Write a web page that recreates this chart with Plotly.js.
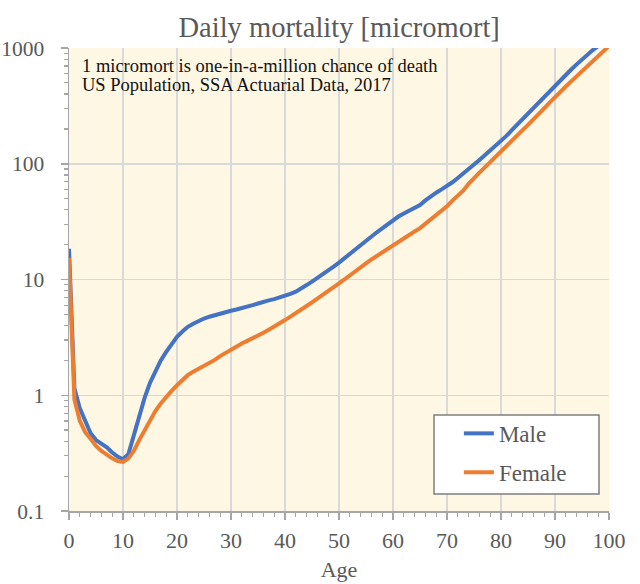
<!DOCTYPE html>
<html>
<head>
<meta charset="utf-8">
<script src="https://cdn.plot.ly/plotly-3.0.1.min.js"></script>
<style>
html,body{margin:0;padding:0;background:#fff;}
#chart{width:640px;height:584px;}
#chart .legendtext{font-family:"Liberation Serif","Times New Roman",serif !important;}
</style>
</head>
<body>
<div id="chart"></div>
<script>
// Age in years
const ages = [];
for (let a = 0; a <= 100; a++) ages.push(a);

// Daily mortality in micromorts
const male = [
  18.4, 1.15, 0.77, 0.60, 0.47, 0.41, 0.38, 0.355, 0.32, 0.295,
  0.28, 0.31, 0.45, 0.68, 0.95, 1.28, 1.62, 2.0, 2.37, 2.77,
  3.2, 3.55, 3.9, 4.15, 4.4, 4.6, 4.77, 4.93, 5.1, 5.23,
  5.37, 5.5, 5.63, 5.8, 6.0, 6.2, 6.43, 6.6, 6.77, 6.97,
  7.2, 7.5, 7.85, 8.3, 8.95, 9.6, 10.3, 11.0, 11.9, 12.9,
  14.0, 15.3, 16.7, 18.2, 20.0, 21.8, 23.7, 25.6, 27.6, 30.0,
  32.5, 35.0, 37.2, 39.3, 41.5, 44.0, 48.2, 52.6, 56.2, 60.0,
  64.2, 69.2, 75.4, 82.0, 89.5, 98.1, 107.8, 118.5, 130, 143,
  157, 174, 195, 218, 243, 272, 304, 340, 381, 427,
  478, 531, 588, 652, 722, 800, 887, 960, 1040, 1120,
  1200
];
const female = [
  15.3, 0.92, 0.60, 0.48, 0.42, 0.365, 0.33, 0.305, 0.285, 0.27,
  0.265, 0.285, 0.33, 0.41, 0.50, 0.61, 0.73, 0.85, 0.97, 1.09,
  1.22, 1.35, 1.49, 1.60, 1.70, 1.79, 1.88, 2.02, 2.18, 2.33,
  2.49, 2.65, 2.80, 2.95, 3.10, 3.28, 3.46, 3.68, 3.90, 4.17,
  4.46, 4.78, 5.10, 5.45, 5.90, 6.35, 6.87, 7.45, 8.10, 8.65,
  9.26, 10.0, 10.9, 11.9, 12.9, 13.8, 14.9, 16.0, 17.3, 18.6,
  19.9, 21.3, 22.8, 24.4, 26.0, 27.8, 30.2, 33.0, 36.0, 39.6,
  43.0, 48.0, 53.0, 58.5, 67.0, 75.6, 83.9, 93.0, 103, 114.5,
  127, 141.7, 157.6, 175, 195, 217, 240, 269, 301, 337,
  378, 420, 465, 515, 571, 634, 699, 770, 850, 940,
  1040
];

const yTickVals = [0.1, 1, 10, 100, 1000];
const yTickText = ["0.1", "1", "10", "100", "1000"];
const yMinorVals = [];
[0.1, 1, 10, 100].forEach(function (d) {
  for (let k = 2; k <= 9; k++) yMinorVals.push(d * k);
});

const noteLines = [
  "1 micromort is one-in-a-million chance of death",
  "US Population, SSA Actuarial Data, 2017"
];

const serif = "Liberation Serif, Times New Roman, serif";
const grey = "#595959";

const traces = [
  {x: ages, y: male, name: "Male", type: "scatter", mode: "lines",
   legendgroup: "m", line: {color: "#4472C4", width: 4}},
  {x: ages, y: female, name: "Female", type: "scatter", mode: "lines",
   legendgroup: "f", line: {color: "#ED7D31", width: 4}}
];

const layout = {
  width: 640, height: 584,
  margin: {l: 69, r: 31, t: 48, b: 73},
  paper_bgcolor: "#ffffff",
  plot_bgcolor: "#FEF7E4",
  font: {family: serif, color: grey},
  title: {text: "Daily mortality [micromort]", font: {family: serif, size: 28.5, color: grey},
          x: 0.53, xanchor: "center", y: 0.953, yanchor: "middle"},
  xaxis: {
    range: [0, 100], dtick: 10, tick0: 0,
    showgrid: true, gridcolor: "#D9D9D9", gridwidth: 1.5,
    zeroline: false, showline: true, linecolor: "#A6A6A6", linewidth: 1.5,
    ticks: "outside", ticklen: 7, tickcolor: "#A6A6A6", tickwidth: 1.5,
    ticklabelstandoff: 2,
    minor: {dtick: 2, ticks: "outside", ticklen: 4, tickcolor: "#A6A6A6", tickwidth: 1.2, showgrid: false},
    tickfont: {family: serif, size: 22, color: grey},
    title: {text: "Age", font: {family: serif, size: 22, color: grey}, standoff: 9}
  },
  yaxis: {
    type: "log", range: [-1, 3],
    tickvals: yTickVals, ticktext: yTickText,
    showgrid: true, gridcolor: "#D9D9D9", gridwidth: 1.5,
    zeroline: false, showline: true, linecolor: "#A6A6A6", linewidth: 1.5,
    ticks: "outside", ticklen: 7, tickcolor: "#A6A6A6", tickwidth: 1.5,
    ticklabelstandoff: 12,
    minor: {tickvals: yMinorVals, ticks: "outside", ticklen: 4, tickcolor: "#A6A6A6", tickwidth: 1.2, showgrid: false},
    tickfont: {family: serif, size: 21.5, color: grey}
  },
  showlegend: true,
  legend: {
    x: 0.722, y: 0.214, xanchor: "left", yanchor: "top",
    bgcolor: "rgba(0,0,0,0)", borderwidth: 0,
    font: {family: serif, size: 23, color: grey},
    tracegroupgap: 6, itemwidth: 30
  },
  shapes: [{
    type: "rect", xref: "paper", yref: "paper", layer: "above",
    x0: (434 - 69) / 540, x1: (599 - 69) / 540,
    y0: (511 - 494) / 463, y1: (511 - 415) / 463,
    fillcolor: "#ffffff", line: {color: "#7F7F7F", width: 1.5}
  }],
  annotations: [
    {xref: "paper", yref: "paper", x: 0.02, y: 0.962, xanchor: "left", yanchor: "middle",
     showarrow: false, text: noteLines[0], font: {family: serif, size: 18.5, color: "#111111"}},
    {xref: "paper", yref: "paper", x: 0.02, y: 0.921, xanchor: "left", yanchor: "middle",
     showarrow: false, text: noteLines[1], font: {family: serif, size: 18.5, color: "#111111"}}
  ]
};

Plotly.newPlot("chart", traces, layout, {displayModeBar: false, staticPlot: true});
</script>
</body>
</html>
